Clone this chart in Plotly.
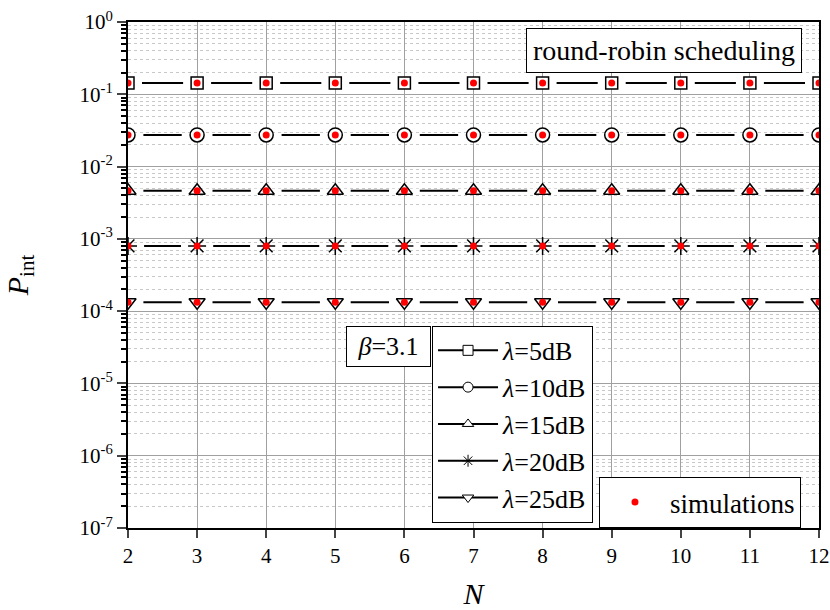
import plotly.graph_objects as go

N = [2, 3, 4, 5, 6, 7, 8, 9, 10, 11, 12]
labels = ["<i>λ</i>=5dB", "<i>λ</i>=10dB", "<i>λ</i>=15dB", "<i>λ</i>=20dB", "<i>λ</i>=25dB"]
p_5 = [0.143] * 11
p_10 = [0.0274] * 11
p_15 = [0.00464] * 11
p_20 = [0.000798] * 11
p_25 = [0.000133] * 11
sim_5 = [0.143] * 11
sim_10 = [0.0274] * 11
sim_15 = [0.00464] * 11
sim_20 = [0.000798] * 11
sim_25 = [0.000133] * 11
ytick_exp = [0, -1, -2, -3, -4, -5, -6, -7]
xticks = [2, 3, 4, 5, 6, 7, 8, 9, 10, 11, 12]

series = [p_5, p_10, p_15, p_20, p_25]
sims = [sim_5, sim_10, sim_15, sim_20, sim_25]
symbols = ["square", "circle", "triangle-up", "asterisk-open", "triangle-down"]
sizes = [12, 14, 14, 15, 14]

FONT = "Liberation Serif"
fig = go.Figure()
for y, lab, sym, sz in zip(series, labels, symbols, sizes):
    mcol = "black" if sym.startswith("asterisk") else "white"
    fig.add_trace(go.Scatter(
        x=N, y=y, mode="lines", line=dict(color="black", width=2),
        showlegend=False, hoverinfo="skip"))
    fig.add_trace(go.Scatter(
        x=N, y=y, mode="markers", showlegend=False, hoverinfo="skip",
        marker=dict(symbol="line-ew-open", size=sz + 8, color="white",
                    line=dict(color="white", width=4))))
    fig.add_trace(go.Scatter(
        x=N, y=y, mode="markers", showlegend=False,
        marker=dict(symbol=sym, size=sz, color=mcol,
                    line=dict(color="black", width=1.5))))
    # legend entry
    fig.add_trace(go.Scatter(
        x=[None], y=[None], mode="lines+markers", name=lab,
        line=dict(color="black", width=2),
        marker=dict(symbol=sym, size=10, color=mcol,
                    line=dict(color="black", width=1)),
        legend="legend", legendgroup=lab))
for i, y in enumerate(sims):
    fig.add_trace(go.Scatter(
        x=N, y=y, mode="markers", name="simulations",
        marker=dict(symbol="circle", size=7, color="#ff0000"),
        showlegend=(i == 0), legendgroup="sim", legend="legend2"))

minor_vals = [k * 10.0 ** e for e in range(-7, 0) for k in range(2, 10)]

fig.update_layout(
    width=830, height=610,
    margin=dict(l=128, r=11, t=22, b=82),
    paper_bgcolor="white", plot_bgcolor="white",
    font=dict(family=FONT, color="black", size=21),
    xaxis=dict(
        range=[2, 12], tickmode="array", tickvals=xticks, automargin=False,
        ticks="outside", ticklen=8, tickwidth=2,
        showline=True, linecolor="black", linewidth=2, mirror=True,
        showgrid=True, gridcolor="#a0a0a0", gridwidth=1, zeroline=False,
        title=dict(text="<i>N</i>", font=dict(size=30, family=FONT), standoff=20),
        tickfont=dict(size=21, family=FONT),
    ),
    yaxis=dict(
        type="log", range=[-7, 0], tickmode="array", automargin=False,
        tickvals=[10.0 ** e for e in ytick_exp],
        ticktext=["10<sup>%d</sup>" % e for e in ytick_exp],
        ticks="outside", ticklen=9, tickwidth=2,
        showline=True, linecolor="black", linewidth=2, mirror=True,
        showgrid=True, gridcolor="#a0a0a0", gridwidth=1, zeroline=False,
        minor=dict(tickmode="array", tickvals=minor_vals, ticks="outside",
                   ticklen=5, tickwidth=1.5, tickcolor="black",
                   showgrid=True, gridcolor="#c8c8c8", griddash="dot", gridwidth=1),
        title=dict(text="<i>P</i><sub>int</sub>", font=dict(size=30, family=FONT), standoff=42),
        tickfont=dict(size=21, family=FONT),
    ),
    legend=dict(
        x=0.44, y=0.01, xanchor="left", yanchor="bottom",
        bgcolor="white", bordercolor="black", borderwidth=1,
        font=dict(size=26, family=FONT), itemwidth=60,
        traceorder="grouped", tracegroupgap=0,
    ),
    legend2=dict(
        x=0.6816, y=0.0, xanchor="left", yanchor="bottom",
        bgcolor="white", bordercolor="black", borderwidth=1,
        font=dict(size=27, family=FONT), itemwidth=60,
    ),
    annotations=[
        dict(text="round-robin scheduling", x=0.975, y=0.988, xref="paper", yref="paper",
             xanchor="right", yanchor="top",
             showarrow=False, font=dict(size=28, family=FONT), bgcolor="white",
             bordercolor="black", borderwidth=1, borderpad=6),
        dict(text="\u00a0<i>β</i>=3.1\u00a0", x=0.4385, y=0.318, xref="paper", yref="paper",
             xanchor="right", yanchor="bottom",
             showarrow=False, font=dict(size=26, family=FONT), bgcolor="white",
             bordercolor="black", borderwidth=1, borderpad=5),
    ],
)
fig.write_html("out.html")
